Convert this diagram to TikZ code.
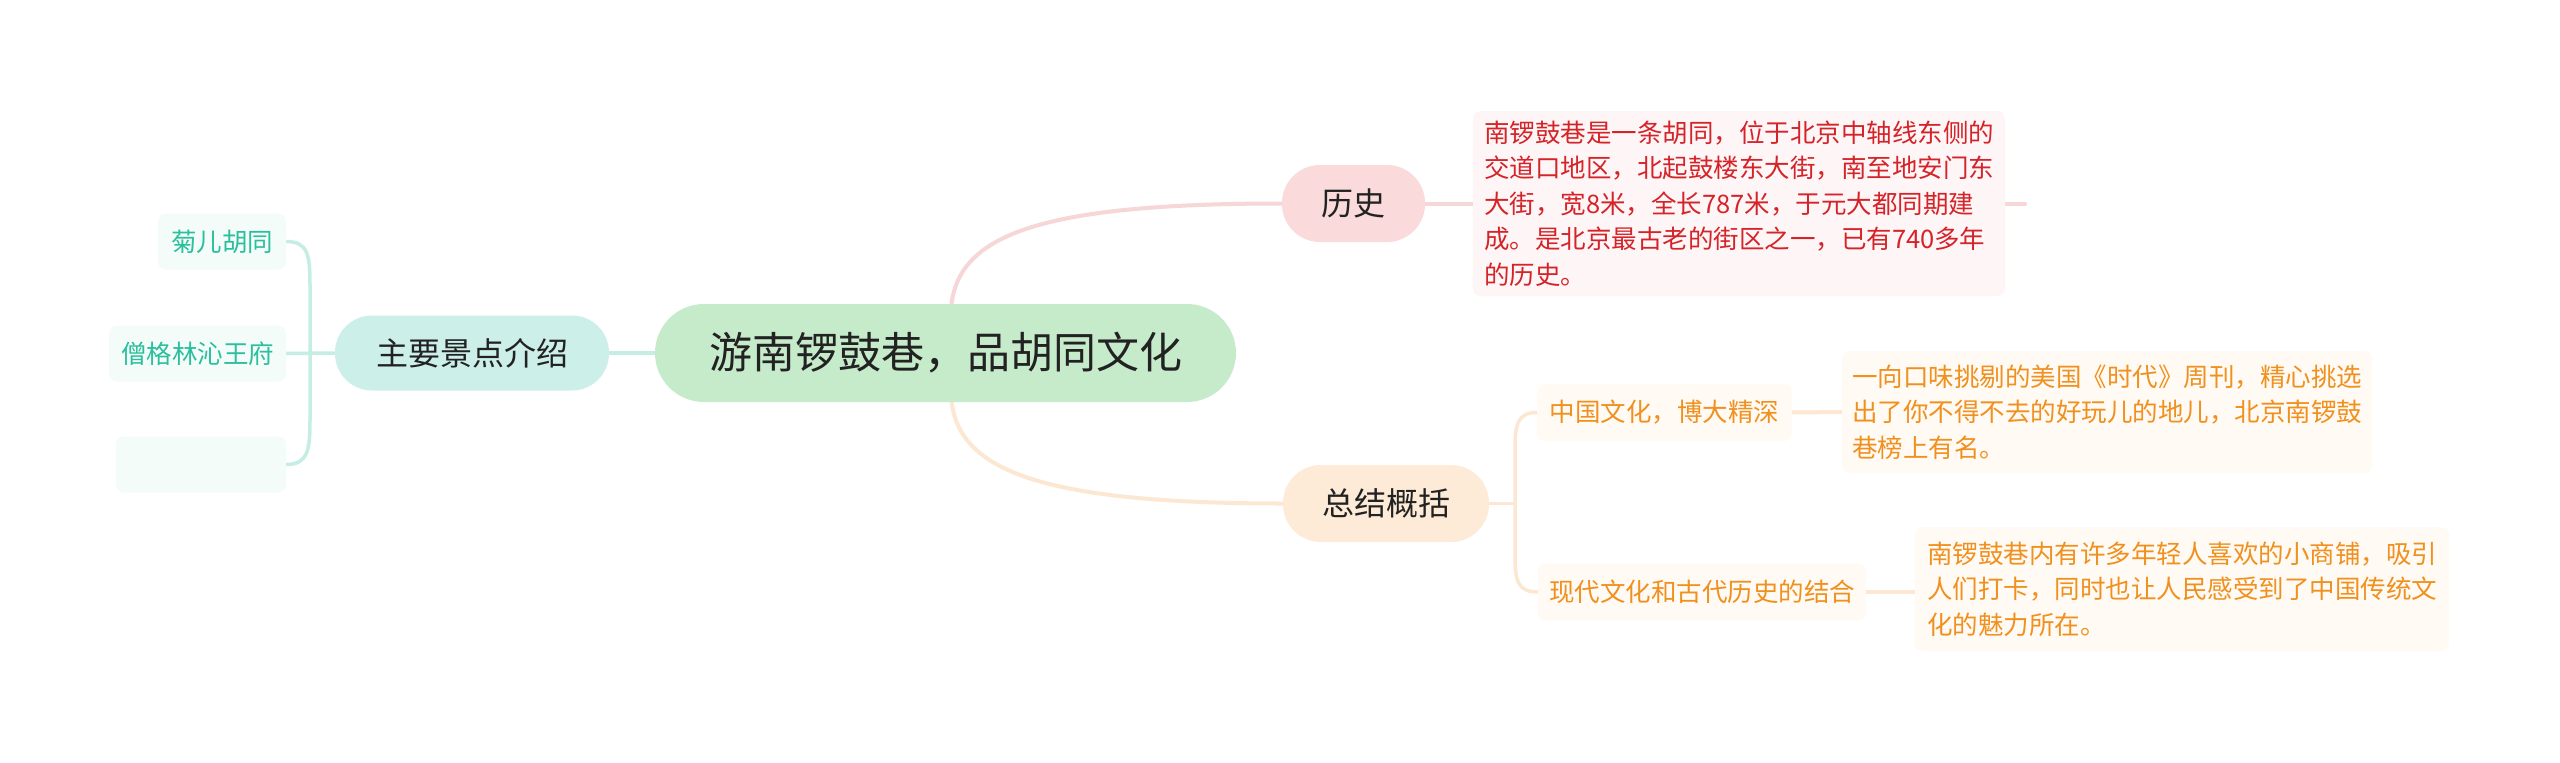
\documentclass[tikz,border=0pt]{standalone}
\usepackage{fontspec}
\setmainfont{Noto Sans CJK SC}
\pgfdeclarelayer{bg}
\pgfsetlayers{bg,main}
\definecolor{cfill}{HTML}{C6EBCB}
\definecolor{tfill}{HTML}{CDEFE9}
\definecolor{tline}{HTML}{C6EDE4}
\definecolor{ttext}{HTML}{2BBF9D}
\definecolor{tleaf}{HTML}{F4FCFA}
\definecolor{pfill}{HTML}{FADADA}
\definecolor{pline}{HTML}{F6D6D6}
\definecolor{ptext}{HTML}{D42329}
\definecolor{pleaf}{HTML}{FEF6F6}
\definecolor{ofill}{HTML}{FDEBD8}
\definecolor{oline}{HTML}{FCE7D3}
\definecolor{otext}{HTML}{F0901E}
\definecolor{oleaf}{HTML}{FFFAF3}
\definecolor{dark}{HTML}{222222}
\begin{document}
\begin{tikzpicture}[x=1pt,y=-1pt,
  every node/.style={inner sep=0pt, outer sep=0pt},
  centernode/.style={fill=cfill, text=dark, minimum width=581, minimum height=98, rounded corners=49, font=\fontsize{43}{50}\selectfont},
  topic/.style={text=dark, minimum height=77, rounded corners=38, font=\fontsize{32}{38}\selectfont},
  leaf/.style={rounded corners=8, minimum height=56, font=\fontsize{25.5}{30}\selectfont},
  textbox/.style={rounded corners=8, align=left, font=\fontsize{25.5}{35.5}\selectfont},
  conn/.style={line width=4pt, line cap=round},
  sub/.style={line width=3.5pt, line cap=round}]
\useasboundingbox (0,0) rectangle (2560,763);

% center
\node[centernode] (c) at (945.5,353) {游南锣鼓巷，品胡同文化};

% left branch
\node[topic, fill=tfill, minimum width=274, minimum height=75, rounded corners=37] (zy) at (472,353) {主要景点介绍};
\node[leaf, fill=tleaf, text=ttext, minimum width=128] (l1) at (222,241.5) {菊儿胡同};
\node[leaf, fill=tleaf, text=ttext, minimum width=177] (l2) at (197.5,353.5) {僧格林沁王府};
\node[leaf, fill=tleaf, minimum width=170] (l3) at (201,464.5) {};

% history branch
\node[topic, fill=pfill, minimum width=143] (hs) at (1353.5,203.5) {历史};
\node[textbox, fill=pleaf, text=ptext, minimum width=532, minimum height=185] (ht) at (1739,203.5)
  {南锣鼓巷是一条胡同，位于北京中轴线东侧的\\交道口地区，北起鼓楼东大街，南至地安门东\\大街，宽8米，全长787米，于元大都同期建\\成。是北京最古老的街区之一，已有740多年\\的历史。};
\coordinate (hend) at (2025,203.5);

% summary branch
\node[topic, fill=ofill, minimum width=206] (sm) at (1386,503.5) {总结概括};
\node[leaf, fill=oleaf, text=otext, minimum width=255, minimum height=57] (s1) at (1664.5,412.5) {中国文化，博大精深};
\node[textbox, fill=oleaf, text=otext, minimum width=530, minimum height=122] (b1) at (2107,412)
  {一向口味挑剔的美国《时代》周刊，精心挑选\\出了你不得不去的好玩儿的地儿，北京南锣鼓\\巷榜上有名。};
\node[leaf, fill=oleaf, text=otext, minimum width=328, minimum height=57] (s2) at (1702,592) {现代文化和古代历史的结合};
\node[textbox, fill=oleaf, text=otext, minimum width=534, minimum height=124] (b2) at (2182,589)
  {南锣鼓巷内有许多年轻人喜欢的小商铺，吸引\\人们打卡，同时也让人民感受到了中国传统文\\化的魅力所在。};

\begin{pgfonlayer}{bg}
  \fill[white] (0,0) rectangle (2560,763);
  % left
  \draw[conn, tline] (c) -- (zy);
  \draw[sub, tline] (zy.west) -- (l2.east);
  \draw[sub, tline] (l1.east) .. controls (308,241.5) and (310,255) .. (310,285) -- (310,420) .. controls (310,450) and (308,464.5) .. (l3.east);
  % history
  \draw[conn, pline] (c) .. controls (960,235) and (1040,203.5) .. (hs.west);
  \draw[conn, pline] (hs.east) -- (ht.west);
  \draw[conn, pline] (ht.east) -- (hend);
  % summary
  \draw[conn, oline] (c) .. controls (960,470) and (1040,503.5) .. (sm.west);
  \draw[sub, oline] (sm.east) -- (1515,503.5);
  \draw[sub, oline] (s1.west) .. controls (1517,412.5) and (1515,425) .. (1515,450) -- (1515,555) .. controls (1515,580) and (1517,592) .. (s2.west);
  \draw[conn, oline] (s1.east) -- (b1.west);
  \draw[conn, oline] (s2.east) -- (b2.west |- s2.east);
\end{pgfonlayer}
\end{tikzpicture}
\end{document}
